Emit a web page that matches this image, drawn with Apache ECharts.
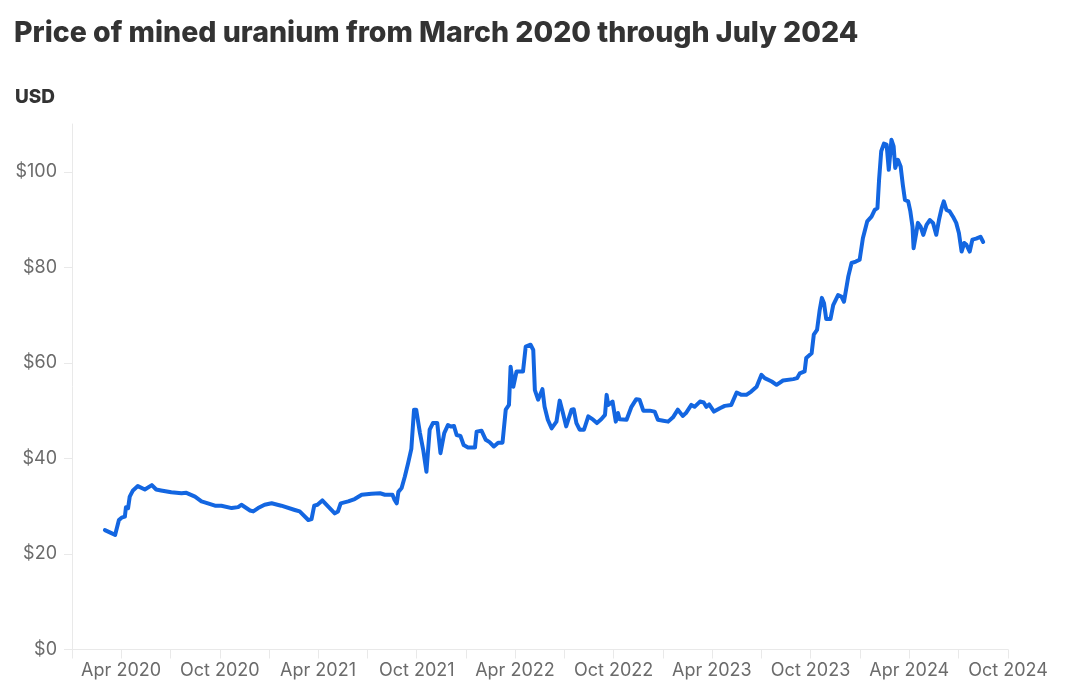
<!DOCTYPE html>
<html>
<head>
<meta charset="utf-8">
<script src="https://cdn.jsdelivr.net/npm/echarts@6/dist/echarts.min.js"></script>
<style>
html,body{margin:0;padding:0;background:#fff;}
#chart{width:1080px;height:696px;}
</style>
</head>
<body>
<div id="chart"></div>
<script>
const titleText = 'Price of mined uranium from March 2020 through July 2024';
const unitLabel = 'USD';

const dates = [
'2020-03-02','2020-03-21','2020-03-24','2020-03-28','2020-04-02','2020-04-08','2020-04-10','2020-04-14','2020-04-17','2020-04-23',
'2020-05-02','2020-05-15','2020-05-28','2020-06-05','2020-06-14','2020-07-03','2020-07-22','2020-07-31','2020-08-16','2020-08-28',
'2020-09-06','2020-09-22','2020-10-04','2020-10-23','2020-11-04','2020-11-10','2020-11-26','2020-12-02','2020-12-11','2020-12-23',
'2021-01-05','2021-01-23','2021-02-17','2021-02-26','2021-03-14','2021-03-20','2021-03-25','2021-03-31','2021-04-09','2021-04-20',
'2021-05-02','2021-05-08','2021-05-13','2021-05-27','2021-06-08','2021-06-21','2021-07-09','2021-07-25','2021-08-03','2021-08-17',
'2021-08-21','2021-08-25','2021-08-28','2021-09-03','2021-09-09','2021-09-15','2021-09-21','2021-09-26','2021-09-30','2021-10-07',
'2021-10-13','2021-10-19','2021-10-22','2021-10-25','2021-10-31','2021-11-08','2021-11-14','2021-11-21','2021-11-28','2021-12-03',
'2021-12-09','2021-12-14','2021-12-21','2021-12-27','2022-01-04','2022-01-17','2022-01-20','2022-01-29','2022-02-06','2022-02-13',
'2022-02-21','2022-03-01','2022-03-09','2022-03-15','2022-03-21','2022-03-24','2022-03-29','2022-04-04','2022-04-16','2022-04-21',
'2022-04-30','2022-05-05','2022-05-08','2022-05-14','2022-05-22','2022-05-26','2022-06-01','2022-06-08','2022-06-17','2022-06-23',
'2022-06-29','2022-07-05','2022-07-15','2022-07-19','2022-07-24','2022-07-30','2022-08-07','2022-08-15','2022-08-24','2022-08-31',
'2022-09-08','2022-09-15','2022-09-18','2022-09-21','2022-09-29','2022-10-05','2022-10-09','2022-10-12','2022-10-25','2022-11-03',
'2022-11-12','2022-11-18','2022-11-25','2022-12-07','2022-12-16','2022-12-22','2023-01-01','2023-01-10','2023-01-19','2023-01-28',
'2023-02-06','2023-02-12','2023-02-22','2023-02-28','2023-03-10','2023-03-17','2023-03-22','2023-03-27','2023-04-05','2023-04-16',
'2023-04-25','2023-05-07','2023-05-17','2023-05-26','2023-06-04','2023-06-13','2023-06-23','2023-07-02','2023-07-08','2023-07-21',
'2023-07-30','2023-08-11','2023-08-30','2023-09-06','2023-09-11','2023-09-20','2023-09-23','2023-10-03','2023-10-07','2023-10-13',
'2023-10-18','2023-10-22','2023-10-26','2023-10-30','2023-11-07','2023-11-12','2023-11-21','2023-11-27','2023-12-02','2023-12-10',
'2023-12-16','2023-12-24','2023-12-31','2024-01-06','2024-01-14','2024-01-22','2024-01-28','2024-02-02','2024-02-05','2024-02-09',
'2024-02-14','2024-02-19','2024-02-23','2024-02-28','2024-03-03','2024-03-06','2024-03-11','2024-03-16','2024-03-20','2024-03-24',
'2024-03-30','2024-04-03','2024-04-07','2024-04-09','2024-04-14','2024-04-17','2024-04-22','2024-04-27','2024-05-03','2024-05-09',
'2024-05-15','2024-05-21','2024-05-26','2024-05-31','2024-06-04','2024-06-09','2024-06-15','2024-06-21','2024-06-27','2024-07-02',
'2024-07-07','2024-07-12','2024-07-16','2024-07-22','2024-07-27','2024-08-03','2024-08-11','2024-08-16'
];

const prices = [
25.0,24.0,24.0,27.1,27.6,27.8,29.8,29.6,32.0,33.3,
34.2,33.5,34.4,33.5,33.3,32.9,32.7,32.8,32.0,31.0,
30.7,30.1,30.1,29.6,29.8,30.3,29.1,28.9,29.6,30.3,
30.6,30.1,29.2,28.9,27.1,27.3,30.1,30.3,31.2,29.9,
28.5,28.9,30.6,31.0,31.5,32.4,32.6,32.7,32.4,32.4,
31.3,30.6,33.0,33.8,36.2,39.0,42.0,50.2,50.2,45.3,
41.8,37.2,37.2,46.0,47.4,47.4,41.1,45.3,47.0,46.7,
46.8,44.9,44.7,42.8,42.3,42.3,45.6,45.8,43.9,43.4,
42.5,43.3,43.3,50.2,51.2,59.2,55.0,58.2,58.2,63.4,
63.8,62.7,54.3,52.3,54.5,50.8,48.1,46.3,47.7,52.1,
49.5,46.7,50.2,50.3,47.4,46.0,46.0,48.8,48.1,47.4,
48.2,49.1,53.3,51.2,51.9,47.7,49.5,48.2,48.1,50.8,
52.4,52.3,50.0,50.0,49.8,48.1,47.9,47.7,48.6,50.2,
48.9,49.5,51.2,50.8,51.9,51.7,50.8,51.3,49.8,50.5,
51.0,51.2,53.8,53.3,53.3,54.0,55.0,57.5,56.8,56.1,
55.4,56.3,56.6,56.8,57.8,58.2,61.0,62.0,65.9,66.9,
71.1,73.6,72.5,69.2,69.2,72.1,74.2,73.9,72.8,78.1,
80.9,81.2,81.6,86.1,89.6,90.6,92.0,92.4,98.3,104.3,
105.9,105.7,100.4,106.7,105.3,100.8,102.5,101.1,97.3,94.1,
93.8,91.7,88.5,84.0,87.2,89.3,88.5,86.8,88.9,89.9,
89.3,86.8,89.9,92.4,93.8,92.0,91.7,90.6,89.3,87.2,
83.3,85.1,84.7,83.3,85.8,86.0,86.4,85.3
];

const yTicks = [0, 20, 40, 60, 80, 100];
const xStart = [2020, 0];
const xEnd = [2024, 9];
const monthNames = ['Jan','Feb','Mar','Apr','May','Jun','Jul','Aug','Sep','Oct','Nov','Dec'];

function toTime(s) { const p = s.split('-').map(Number); return new Date(p[0], p[1] - 1, p[2]).getTime(); }

const quarterTicks = [];
const halfYearLabels = [];
for (let y = xStart[0], m = xStart[1]; y < xEnd[0] || (y === xEnd[0] && m <= xEnd[1]); ) {
  const t = new Date(y, m, 1).getTime();
  quarterTicks.push(t);
  if (m === 3 || m === 9) halfYearLabels.push(t);
  m += 3; if (m > 11) { m -= 12; y++; }
}

const chart = echarts.init(document.getElementById('chart'), null, {renderer: 'canvas'});
const axisGray = '#e9e9e9';
const labelGray = '#6b6b6b';
const fontFam = 'Inter, "Noto Sans", sans-serif';

chart.setOption({
  animation: false,
  backgroundColor: '#ffffff',
  title: [
    {text: titleText, left: 9, top: 14, padding: 5,
     textStyle: {fontFamily: fontFam, fontWeight: 800, fontSize: 28.5, color: '#333333'}},
    {text: unitLabel, left: 10, top: 83, padding: 5,
     textStyle: {fontFamily: fontFam, fontWeight: 800, fontSize: 19, color: '#333333'}}
  ],
  grid: {left: 72, right: 72, top: 124, bottom: 46.5, containLabel: false},
  xAxis: {
    type: 'value',
    min: quarterTicks[0],
    max: quarterTicks[quarterTicks.length - 1],
    axisLine: {show: true, lineStyle: {color: axisGray, width: 1}},
    axisTick: {show: true, length: 9, customValues: quarterTicks, lineStyle: {color: axisGray}},
    axisLabel: {
      customValues: halfYearLabels,
      margin: 12,
      color: labelGray,
      fontFamily: fontFam,
      fontSize: 18,
      formatter: function (v) { const d = new Date(v); return monthNames[d.getMonth()] + ' ' + d.getFullYear(); }
    },
    splitLine: {show: false}
  },
  yAxis: {
    type: 'value',
    min: 0,
    max: 110,
    interval: 20,
    axisLine: {show: true, lineStyle: {color: axisGray, width: 1}},
    axisTick: {show: true, length: 8, customValues: yTicks, lineStyle: {color: axisGray}},
    axisLabel: {
      customValues: yTicks,
      margin: 15,
      color: labelGray,
      fontFamily: fontFam,
      fontSize: 18,
      formatter: function (v) { return '$' + v; }
    },
    splitLine: {show: false}
  },
  series: [{
    type: 'line',
    data: dates.map((d, i) => [toTime(d), prices[i]]),
    showSymbol: false,
    symbol: 'none',
    lineStyle: {color: '#1366e1', width: 4, join: 'round', cap: 'round'},
    smooth: false
  }]
});
</script>
</body>
</html>
